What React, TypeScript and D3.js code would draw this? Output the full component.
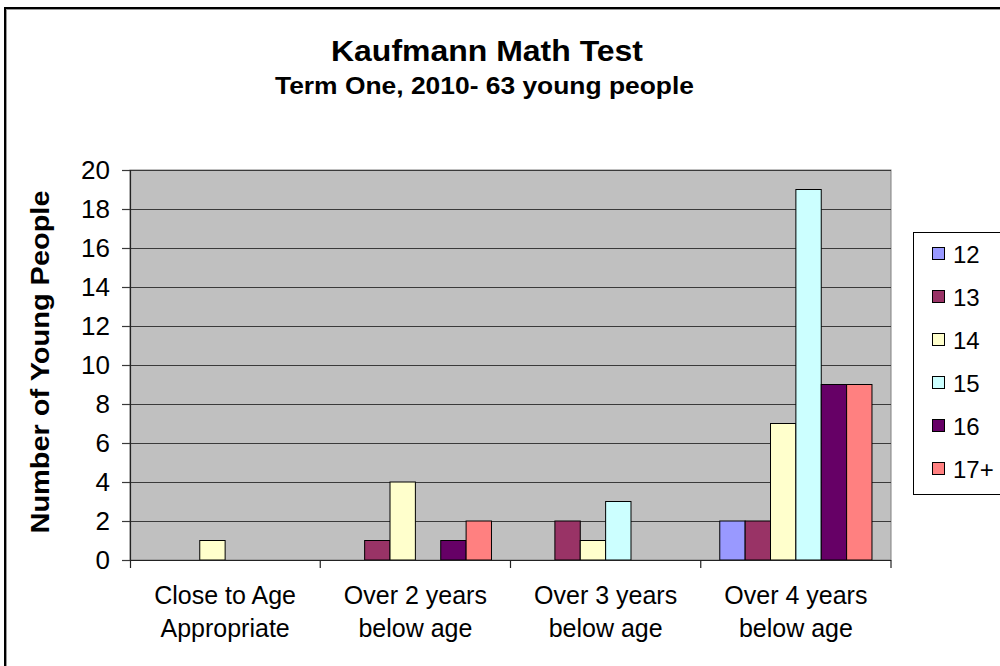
import * as d3 from 'd3';
import React from 'react';

const categories = [
  ['Close to Age', 'Appropriate'],
  ['Over 2 years', 'below age'],
  ['Over 3 years', 'below age'],
  ['Over 4 years', 'below age'],
];
const seriesNames = ['12', '13', '14', '15', '16', '17+'];
const seriesColors = ['#9999FF', '#993366', '#FFFFCC', '#CCFFFF', '#660066', '#FF8080'];
// one array per age group, one value per category
const age12 = [0, 0, 0, 2];
const age13 = [0, 1, 2, 2];
const age14 = [1, 4, 1, 7];
const age15 = [0, 0, 3, 19];
const age16 = [0, 1, 0, 9];
const age17 = [0, 2, 0, 9];
const seriesValues = [age12, age13, age14, age15, age16, age17];
const yTicks = [0, 2, 4, 6, 8, 10, 12, 14, 16, 18, 20];

const W = 1000;
const H = 666;
const plot = { left: 130, right: 891, top: 170, bottom: 560 };
const font = '"Liberation Sans", Arial, sans-serif';

export default function App() {
  const catIdx = categories.map((_, i) => String(i));
  const x0 = d3.scaleBand().domain(catIdx).range([plot.left, plot.right]).padding(0);
  // excel gap width 150% -> outer padding of 0.75 bar each side
  const x1 = d3.scaleBand().domain(seriesNames).range([0, x0.bandwidth()]).paddingInner(0).paddingOuter(0.75);
  const y = d3.scaleLinear().domain([0, 20]).range([plot.bottom, plot.top]);
  const cx = (ci: number) => (x0(String(ci)) as number) + x0.bandwidth() / 2;

  return (
    <svg width={W} height={H} style={{ position: 'absolute', left: 0, top: 0, background: '#fff' }} fontFamily={font}>
      {/* outer frame */}
      <rect x={6.5} y={9.5} width={1100} height={700} fill="none" stroke="#999" strokeWidth={1} />
      <rect x={5} y={8} width={1100} height={700} fill="none" stroke="#000" strokeWidth={2} />

      <text x={487} y={61} textAnchor="middle" fontSize={30} fontWeight="bold" textLength={312} lengthAdjust="spacingAndGlyphs">
        Kaufmann Math Test
      </text>
      <text x={484.5} y={94} textAnchor="middle" fontSize={24} fontWeight="bold" textLength={419} lengthAdjust="spacingAndGlyphs">
        Term One, 2010- 63 young people
      </text>

      {/* plot area */}
      <rect x={plot.left} y={plot.top} width={plot.right - plot.left} height={plot.bottom - plot.top} fill="#C0C0C0" stroke="#808080" strokeWidth={1} />
      {yTicks.map((t) => {
        const ty = Math.round(y(t)) + 0.5;
        return (
          <g key={t}>
            <line x1={plot.left} x2={plot.right} y1={ty} y2={ty} stroke="#3a3a3a" strokeWidth={1.2} />
            <line x1={122} x2={plot.left} y1={ty} y2={ty} stroke="#3a3a3a" strokeWidth={1.2} />
            <text x={110} y={y(t) + 9} textAnchor="end" fontSize={26}>
              {t}
            </text>
          </g>
        );
      })}

      {/* bars */}
      {seriesValues.map((vals, si) =>
        vals.map((v, ci) =>
          v > 0 ? (
            <rect
              key={`${si}-${ci}`}
              x={(x0(String(ci)) as number) + (x1(seriesNames[si]) as number)}
              y={y(v)}
              width={x1.bandwidth()}
              height={y(0) - y(v)}
              fill={seriesColors[si]}
              stroke="#000"
              strokeWidth={1}
            />
          ) : null
        )
      )}

      {/* axes */}
      <line x1={plot.left + 0.5} x2={plot.left + 0.5} y1={plot.top} y2={plot.bottom + 8} stroke="#222" strokeWidth={1.2} />
      <line x1={plot.left} x2={plot.right} y1={plot.bottom + 0.5} y2={plot.bottom + 0.5} stroke="#222" strokeWidth={1.2} />
      {catIdx.map((c) => {
        const tx = (x0(c) as number) + x0.bandwidth();
        return <line key={c} x1={tx} x2={tx} y1={plot.bottom} y2={plot.bottom + 8} stroke="#222" strokeWidth={1.2} />;
      })}
      {categories.map((lines, ci) => (
        <text key={ci} textAnchor="middle" fontSize={25}>
          <tspan x={cx(ci)} y={604}>{lines[0]}</tspan>
          <tspan x={cx(ci)} y={637}>{lines[1]}</tspan>
        </text>
      ))}

      <text transform="translate(49,362) rotate(-90)" textAnchor="middle" fontSize={25} fontWeight="bold" textLength={343} lengthAdjust="spacingAndGlyphs">
        Number of Young People
      </text>

      {/* legend */}
      <rect x={913.5} y={232.5} width={120} height={262} fill="#fff" stroke="#000" strokeWidth={1} />
      {seriesNames.map((s, i) => {
        const ly = 254 + i * 43;
        return (
          <g key={s}>
            <rect x={932.5} y={ly - 6.5} width={12} height={12} fill={seriesColors[i]} stroke="#000" strokeWidth={1} />
            <text x={953} y={ly + 9} fontSize={24}>
              {s}
            </text>
          </g>
        );
      })}
    </svg>
  );
}
